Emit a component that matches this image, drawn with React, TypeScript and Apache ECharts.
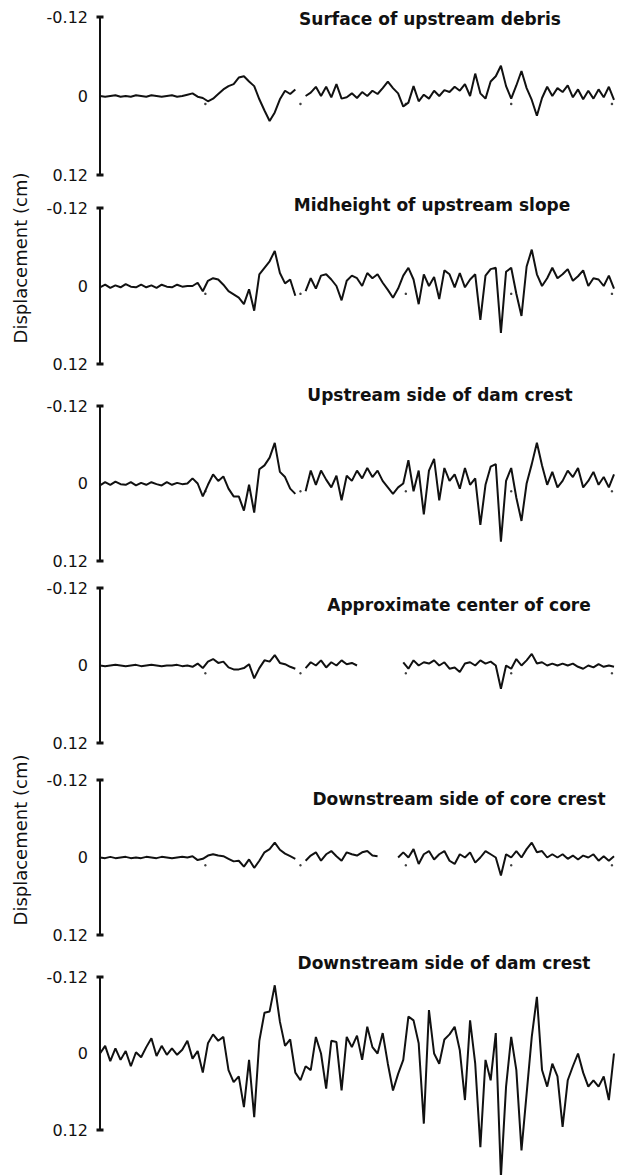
import React, { useEffect, useRef } from "react";
import * as echarts from "echarts";

const TITLES = [
  "Surface of upstream debris",
  "Midheight of upstream slope",
  "Upstream side of dam crest",
  "Approximate center of core",
  "Downstream side of core crest",
  "Downstream side of dam crest",
];

const Y_LABEL = "Displacement (cm)";
const Y_TICKS = [-0.12, 0, 0.12];

// timing marks on the records (time step)
const MARKS = [20.5, 39, 59.5, 80, 99.6];

// displacement (cm), positive = downward; one sample per time step (0..100)
const P1 = [
  0, 0.001, 0, -0.001, 0.001, 0, 0.001, -0.001, 0, 0.001, -0.001, 0, 0.001, 0, -0.001, 0.001, 0,
  -0.002, -0.004, 0.001, 0.003, 0.008, 0.004, -0.003, -0.010, -0.015, -0.018, -0.028, -0.030, -0.022, -0.015, 0.005, 0.022, 0.038, 0.025, 0.005, -0.008, -0.003, -0.010,
  null,
  0.000, -0.005, -0.014, 0.000, -0.014, 0.002, -0.018, 0.004, 0.002, -0.004,
  0.003, -0.006, 0.000, -0.008, -0.003, -0.012, -0.022, -0.012, -0.004, 0.016,
  0.010, -0.015, 0.008, -0.002, 0.004, -0.008, 0.000, -0.009, -0.006, -0.014,
  -0.008, -0.018, 0.000, -0.034, -0.004, 0.004, -0.022, -0.030, -0.046, -0.015,
  0.004, -0.016, -0.038, -0.012, 0.006, 0.030, 0.003, -0.014, 0.000, -0.012,
  -0.006, -0.016, 0.002, -0.010, 0.005, -0.008, 0.004, -0.010, 0.002, -0.014, 0.006,
];

const P2 = [
  0.002, -0.002, 0.003, -0.001, 0.002, -0.003, 0.001, 0.002, -0.002, 0.002, -0.001, 0.003, -0.002, 0.001, 0.002, -0.002, 0.001, 0.000,
  0.000, -0.005, 0.008, -0.008, -0.012, -0.010, -0.002, 0.008, 0.013, 0.018, 0.028, 0.005, 0.038, -0.018, -0.028, -0.038, -0.054, -0.020, -0.004, -0.010, 0.015,
  null,
  0.008, -0.012, 0.004, -0.016, -0.018, -0.010, 0.000, 0.022, -0.008, -0.016,
  -0.012, 0.000, -0.020, -0.012, -0.018, -0.005, 0.006, 0.018, 0.004, -0.016,
  -0.028, -0.010, 0.028, -0.018, 0.000, -0.014, 0.020, -0.024, -0.018, 0.002,
  -0.020, 0.002, -0.010, -0.018, 0.052, -0.016, -0.026, -0.028, 0.072, -0.022,
  -0.028, 0.012, 0.046, -0.030, -0.056, -0.018, 0.000, -0.012, -0.028, -0.012,
  -0.018, -0.026, -0.008, -0.015, -0.024, 0.000, -0.012, -0.010, 0.000, -0.016, 0.004,
];

const P3 = [
  0.003, -0.002, 0.002, -0.003, 0.001, 0.002, -0.002, 0.003, -0.001, 0.002, -0.002, 0.001, 0.003, -0.002, 0.002, -0.001, 0.001, 0.000,
  -0.008, 0.000, 0.020, 0.002, -0.014, -0.004, -0.011, 0.008, 0.020, 0.020, 0.042, 0.002, 0.045, -0.022, -0.028, -0.040, -0.063, -0.018, -0.010, 0.008, 0.016,
  null,
  0.012, -0.020, 0.002, -0.020, -0.006, 0.006, -0.012, 0.026, -0.012, -0.004,
  -0.020, -0.008, -0.024, -0.010, -0.020, -0.004, 0.006, 0.016, 0.006, 0.000,
  -0.036, 0.012, -0.020, 0.048, -0.020, -0.038, 0.026, -0.024, -0.004, -0.014,
  0.008, -0.024, 0.002, -0.008, 0.064, 0.002, -0.026, -0.030, 0.090, -0.004,
  -0.024, 0.022, 0.058, 0.000, -0.030, -0.063, -0.028, 0.002, -0.018, 0.006,
  -0.004, -0.020, -0.010, -0.024, 0.006, -0.004, -0.018, 0.002, -0.010, 0.006, -0.014,
];

const P4 = [
  0, 0.001, 0, -0.001, 0, 0.001, 0, -0.001, 0.001, 0, -0.001, 0, 0.001, 0, 0, -0.001, 0.001, 0,
  0.002, -0.003, 0.004, -0.006, -0.010, -0.004, -0.006, 0.003, 0.006, 0.006, 0.004, -0.002, 0.020, 0.004, -0.008, -0.006, -0.016, -0.004, -0.002, 0.002, 0.005,
  null,
  0.004, -0.005, 0.000, -0.008, 0.003, -0.005, 0.000, -0.008, -0.002, -0.004, 0.000,
  null, null, null, null, null, null, null, null,
  -0.005, 0.005, -0.008, 0.000, -0.005, -0.003, -0.008, 0.000, -0.005, 0.005, 0.003,
  0.010, -0.003, -0.005, 0.000, -0.008, -0.003, -0.006, 0.000, 0.036, 0.000,
  0.005, -0.010, 0.000, -0.008, -0.018, -0.003, -0.005, 0.000, -0.003, 0.000,
  -0.003, 0.000, -0.003, 0.002, 0.005, 0.000, 0.003, -0.002, 0.002, 0.000, 0.002,
];

const P5 = [
  0, 0.001, -0.001, 0.001, 0, -0.001, 0.001, 0, 0.001, -0.001, 0, 0.001, -0.001, 0, 0.001, 0, -0.001, 0,
  -0.002, 0.004, 0.002, -0.003, -0.005, -0.003, -0.002, 0.002, 0.006, 0.005, 0.014, 0.003, 0.016, 0.005, -0.008, -0.013, -0.023, -0.012, -0.006, -0.002, 0.002,
  null,
  0.005, -0.003, -0.008, 0.005, -0.005, -0.010, -0.002, 0.005, -0.008, -0.005, -0.003, -0.008, -0.010, -0.003, -0.002,
  null, null, null,
  0.000, -0.008, 0.000, -0.013, 0.010, -0.005, -0.010, 0.003, -0.005, -0.010, 0.005, 0.010,
  -0.005, 0.000, -0.008, 0.008, 0.000, -0.010, -0.005, 0.000, 0.028, -0.005,
  0.000, -0.010, 0.000, -0.013, -0.023, -0.008, -0.010, 0.000, -0.005, 0.000,
  -0.005, 0.002, -0.003, 0.003, -0.003, 0.000, -0.005, 0.005, -0.002, 0.005, -0.002,
];

const P6 = [
  0.000, -0.012, 0.012, -0.008, 0.010, -0.004, 0.020, -0.002, 0.006, -0.010,
  -0.024, 0.004, -0.012, 0.002, -0.008, 0.002, -0.006, -0.020, 0.008, -0.004,
  0.030, -0.016, -0.030, -0.020, -0.026, 0.026, 0.045, 0.036, 0.084, 0.010,
  0.100, -0.020, -0.064, -0.066, -0.107, -0.050, -0.012, -0.022, 0.030, 0.042,
  0.020, 0.026, -0.026, 0.000, 0.055, -0.020, -0.018, 0.058, -0.026, -0.010,
  -0.028, 0.010, -0.042, -0.010, 0.000, -0.032, 0.016, 0.058, 0.032, 0.010,
  -0.058, -0.052, -0.016, 0.110, -0.068, 0.000, 0.016, -0.022, -0.030, -0.042,
  -0.005, 0.073, -0.052, 0.016, 0.147, 0.010, 0.042, -0.032, 0.194, 0.052,
  -0.026, 0.026, 0.152, 0.063, -0.026, -0.089, 0.026, 0.052, 0.016, 0.036,
  0.115, 0.042, 0.020, 0.000, 0.030, 0.052, 0.042, 0.052, 0.036, 0.073, 0.000,
];

const SERIES = [P1, P2, P3, P4, P5, P6];

export default function App() {
  const ref = useRef<HTMLDivElement>(null);
  useEffect(() => {
    if (!ref.current) return;
    const chart = echarts.init(ref.current, null, { renderer: "svg" });
    const tops = [17, 208, 406, 588, 780, 977];
    const heights = [158, 156, 155, 155, 155, 153];
    const titlePos = [
      [430, 19],
      [432, 205],
      [440, 395],
      [459, 605],
      [459, 799],
      [444, 963],
    ];
    const ink = "#111";
    const font = "DejaVu Sans";
    const grid = tops.map((t, i) => ({ left: 100, right: 3, top: t, height: heights[i] }));
    const xAxis = tops.map((_, i) => ({
      type: "value",
      gridIndex: i,
      min: 0,
      max: 100,
      show: false,
    }));
    const yAxis = tops.map((_, i) => ({
      type: "value",
      gridIndex: i,
      min: Y_TICKS[0],
      max: Y_TICKS[2],
      interval: 0.12,
      inverse: true,
      axisLine: {
        show: true,
        onZero: false,
        symbol: ["rect", "rect"],
        symbolSize: [7, 3],
        lineStyle: { color: ink, width: 2 },
      },
      axisTick: { show: false },
      splitLine: { show: false },
      axisLabel: {
        margin: 12,
        fontSize: 16,
        color: ink,
        fontFamily: font,
        formatter: (v: number) => (Math.abs(v) < 1e-9 ? "0" : v.toFixed(2)),
      },
    }));
    const series: any[] = SERIES.map((d, i) => ({
      type: "line",
      xAxisIndex: i,
      yAxisIndex: i,
      data: d.map((v, j) => [j, v === null ? "-" : v]),
      symbol: "none",
      showSymbol: false,
      clip: false,
      connectNulls: false,
      lineStyle: { color: ink, width: 2 },
      silent: true,
    }));
    SERIES.forEach((_, i) => {
      if (i === 5) return;
      series.push({
        type: "scatter",
        xAxisIndex: i,
        yAxisIndex: i,
        data: MARKS.map((m) => [m, 0.012]),
        symbol: "circle",
        symbolSize: 2.5,
        itemStyle: { color: ink },
        silent: true,
      });
    });
    const graphic: any[] = TITLES.map((t, i) => ({
      type: "text",
      x: titlePos[i][0],
      y: titlePos[i][1],
      style: {
        text: t,
        fill: ink,
        font: `bold 17px "${font}"`,
        textAlign: "center",
        textVerticalAlign: "middle",
      },
    }));
    [258, 840].forEach((cy) => {
      graphic.push({
        type: "text",
        x: 20,
        y: cy,
        rotation: Math.PI / 2,
        style: {
          text: Y_LABEL,
          fill: ink,
          font: `18px "${font}"`,
          textAlign: "center",
          textVerticalAlign: "middle",
        },
      });
    });
    chart.setOption({
      animation: false,
      backgroundColor: "#fff",
      grid,
      xAxis,
      yAxis,
      series,
      graphic,
    });
    return () => chart.dispose();
  }, []);
  return (
    <div
      ref={ref}
      style={{ position: "absolute", left: 0, top: 0, width: 617, height: 1175, background: "#fff" }}
    />
  );
}
